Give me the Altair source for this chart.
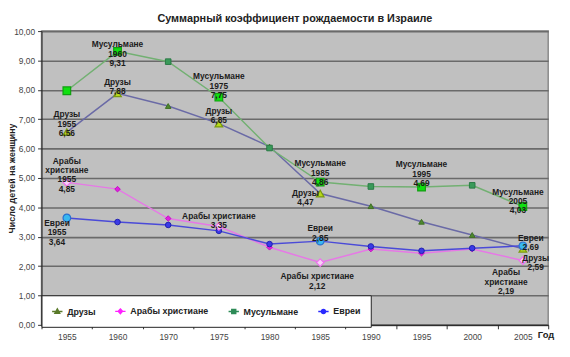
import altair as alt
import pandas as pd

# ---------------- data ----------------
years = ["1955", "1960", "1970", "1975", "1980", "1985", "1990", "1995", "2000", "2005"]
series_names = ["Друзы", "Арабы христиане", "Мусульмане", "Евреи"]

druzy = [6.56, 7.88, 7.45, 6.85, 6.07, 4.47, 4.04, 3.51, 3.06, 2.59]
arab_christians = [4.85, 4.62, 3.62, 3.35, 2.64, 2.12, 2.58, 2.44, 2.58, 2.19]
muslims = [7.97, 9.31, 8.96, 7.75, 6.02, 4.86, 4.71, 4.69, 4.75, 4.03]
jews = [3.64, 3.50, 3.40, 3.20, 2.75, 2.85, 2.67, 2.52, 2.61, 2.69]

# annotated points
label_series = ["Мусульмане", "Друзы", "Мусульмане", "Друзы", "Друзы", "Арабы христиане",
                "Евреи", "Арабы христиане", "Мусульмане", "Друзы", "Мусульмане",
                "Мусульмане", "Евреи", "Арабы христиане", "Евреи", "Друзы", "Арабы христиане"]
label_years = ["1960", "1960", "1975", "1975", "1955", "1955",
               "1955", "1975", "1985", "1985", "1995",
               "2005", "1985", "1985", "2005", "2005", "2005"]
label_texts = ["Мусульмане\n1960\n9,31", "Друзы\n7,88", "Мусульмане\n1975\n7,75", "Друзы\n6,85",
               "Друзы\n1955\n6,56", "Арабы\nхристиане\n1955\n4,85",
               "Евреи\n1955\n3,64", "Арабы христиане\n3,35", "Мусульмане\n1985\n4,86",
               "Друзы\n4,47", "Мусульмане\n1995\n4,69",
               "Мусульмане\n2005\n4,03", "Евреи\n2,85", "Арабы христиане\n2,12",
               "Евреи\n2,69", "Друзы\n2,59", "Арабы\nхристиане\n2,19"]
# extra highlighted (bright) point without a label
extra_hl_series = ["Мусульмане"]
extra_hl_years = ["1955"]

# ---------------- styles ----------------
label_offsets = [(0, -7), (0, -12), (0, -21), (0, -13), (0, -18), (0, -22),
                 (-10, 5), (0, -11), (0, -19), (-15, -1), (0, -23),
                 (-5, -15), (0, -13), (-3, 14), (8, -8), (13, 9), (-17, 12)]

line_colors = ["#6a6aa6", "#e678e6", "#72b072", "#4a4ad8"]
pt_fill = ["#4e8a2e", "#e020e0", "#3a9a5a", "#3a3ae6"]
pt_stroke = ["#3f6f25", "#c010c0", "#2a7a45", "#2020b0"]
pt_shapes = ["triangle-up", "diamond", "square", "circle"]
hl_fill = ["#b8d81a", "#f8d0f8", "#10e010", "#38b8f0"]
hl_stroke = ["#7a9a10", "#ee70ee", "#10a010", "#2a70d0"]
leg_colors = ["#5a7a2a", "#ff20ff", "#2e8b57", "#2a2aff"]
leg_paths = [
    "M-1,0H1M0,-0.5L0.45,0.35H-0.45Z",
    "M-1,0H1M0,-0.45L0.4,0L0,0.45L-0.4,0Z",
    "M-1,0H1M-0.38,-0.38H0.38V0.38H-0.38Z",
    "M-1,0H1M0.4,0A0.4,0.4,0,1,1,-0.4,0A0.4,0.4,0,1,1,0.4,0Z",
]
FONT = "Liberation Sans"

values = {"Друзы": druzy, "Арабы христиане": arab_christians, "Мусульмане": muslims, "Евреи": jews}
df = pd.DataFrame([{"year": y, "series": s, "value": v}
                   for s in series_names for y, v in zip(years, values[s])])

hl_keys = set(zip(label_series, label_years)) | set(zip(extra_hl_series, extra_hl_years))
hl_df = df[[(s, y) in hl_keys for s, y in zip(df["series"], df["year"])]]

lab_df = pd.DataFrame({"series": label_series, "year": label_years, "text": label_texts})
lab_df = lab_df.merge(df, on=["series", "year"], how="left")

x_enc = alt.X("year:O", sort=years,
              scale=alt.Scale(type="band", paddingInner=0, paddingOuter=0),
              axis=alt.Axis(title="Год", labelAngle=0, tickBand="extent", tickSize=4,
                            tickColor="#333", domainColor="#222", labelColor="#444",
                            labelFontSize=8.5, labelFont=FONT, labelPadding=4,
                            titleFont=FONT, titleFontSize=9.5, titleFontWeight="bold",
                            titleColor="#222", titleAnchor="end", titleAlign="left",
                            titleBaseline="top", titleX=503, titleY=5, grid=False))
y_enc = alt.Y("value:Q", scale=alt.Scale(domain=[0, 10], nice=False),
              axis=alt.Axis(title="Число детей на женщину", values=list(range(11)),
                            labelExpr="replace(format(datum.value, '.2f'), '.', ',')",
                            grid=True, gridColor="#6a6a6a", gridWidth=1.6,
                            tickSize=4, tickColor="#333", domainColor="#222",
                            labelColor="#444", labelFontSize=8.5, labelFont=FONT,
                            labelPadding=3, titleFont=FONT, titleFontSize=9,
                            titleFontWeight="bold", titleColor="#222",
                            titleAngle=-90, titleBaseline="middle", titleAlign="center",
                            titleX=-30, titleY=149))

def sc(rng):
    return alt.Scale(domain=series_names, range=rng)

base = alt.Chart(df)

lines = base.mark_line(strokeWidth=1.5).encode(
    x=x_enc, y=y_enc, detail="series:N",
    color=alt.Color("series:N", scale=sc(line_colors), legend=None))

pts = base.mark_point(filled=True, size=32, strokeWidth=1, opacity=1).encode(
    x=x_enc, y=y_enc,
    shape=alt.Shape("series:N", scale=sc(pt_shapes), legend=None),
    fill=alt.Fill("series:N", scale=sc(pt_fill), legend=None),
    stroke=alt.Stroke("series:N", scale=sc(pt_stroke), legend=None))

hl = alt.Chart(hl_df).mark_point(filled=True, size=60, strokeWidth=1.2, opacity=1).encode(
    x=x_enc, y=y_enc,
    shape=alt.Shape("series:N", scale=sc(pt_shapes), legend=None),
    fill=alt.Fill("series:N", scale=sc(hl_fill), legend=None),
    stroke=alt.Stroke("series:N", scale=sc(hl_stroke), legend=None))

legend_layer = base.transform_filter("false").mark_point(
    filled=True, strokeWidth=1.5, opacity=1).encode(
    x=x_enc, y=y_enc,
    shape=alt.Shape("series:N", scale=sc(leg_paths), legend=alt.Legend(title=None)),
    fill=alt.Fill("series:N", scale=sc(leg_colors), legend=alt.Legend(title=None)),
    stroke=alt.Stroke("series:N", scale=sc(leg_colors), legend=alt.Legend(title=None)))

texts = []
for i, (dx, dy) in enumerate(label_offsets):
    t = alt.Chart(lab_df.iloc[[i]]).mark_text(
        font=FONT, fontSize=8.5, fontWeight="bold", color="#1c1c1c",
        lineBreak="\n", lineHeight=9.5, align="center", baseline="middle",
        dx=dx, dy=dy).encode(x=x_enc, y=y_enc, text="text:N")
    texts.append(t)

chart = alt.layer(lines, pts, hl, legend_layer, *texts).resolve_scale(
    color="independent", fill="independent", stroke="independent", shape="independent"
).properties(
    width=514, height=298,
    title=alt.TitleParams("Суммарный коэффициент рождаемости в Израиле", font=FONT,
                          fontSize=11, fontWeight="bold", color="#222", offset=3,
                          anchor="middle"),
    autosize=alt.AutoSizeParams(type="none"),
    padding={"left": 34, "top": 21, "right": 14, "bottom": 18},
).configure_view(fill="#c0c0c0", stroke="#8a8a8a", strokeWidth=1.5
).configure_legend(
    orient="none", legendX=0, legendY=268, direction="horizontal",
    fillColor="#ffffff", strokeColor="#222", padding=10, columnPadding=16,
    symbolSize=110, symbolStrokeWidth=1.5, labelFont=FONT, labelFontSize=9,
    labelFontWeight="bold", labelColor="#222", labelOffset=4, cornerRadius=0,
    symbolOpacity=1)

chart.save("out.html", embed_options={"renderer": "svg", "actions": False})
